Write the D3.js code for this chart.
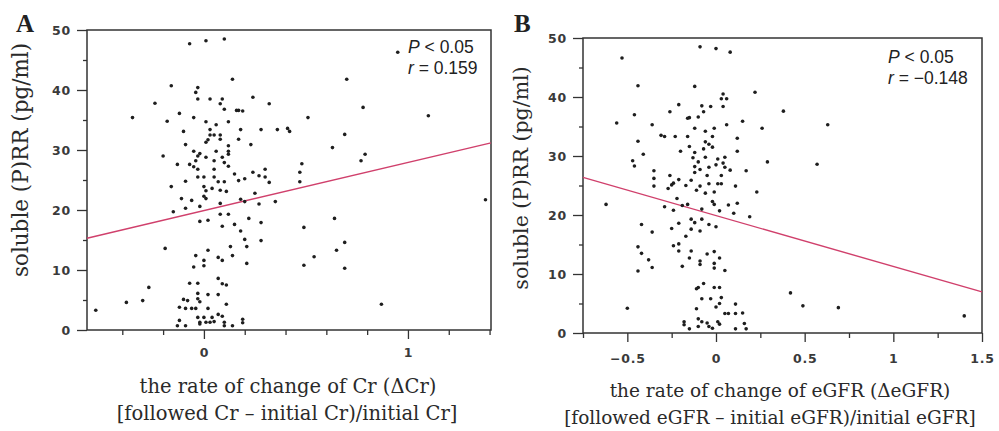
<!DOCTYPE html>
<html>
<head>
<meta charset="utf-8">
<script src="https://cdn.jsdelivr.net/npm/d3@7/dist/d3.min.js"></script>
<style>
  body { margin: 0; background: #fff; }
  .tick line { stroke: #333; stroke-width: 1.3; }
  .axis path.domain { display: none; }
  .axis text { font-family: "DejaVu Sans", sans-serif; font-weight: bold; font-size: 12.5px; fill: #3a3a3a; letter-spacing: 0.8px; }
  .title { font-family: "DejaVu Serif", serif; fill: #2a2a2a; }
  .note { font-family: "Liberation Sans", sans-serif; font-size: 17.5px; fill: #222; }
</style>
</head>
<body>
<div id="chart-area"></div>
<script>
/*
*    soluble (P)RR vs rate of change of Cr / eGFR
*/

// panel A: rate of change of Cr vs soluble (P)RR
var crChange = [-0.07,0.01,0.10,0.14,-0.16,-0.03,-0.04,-0.03,0.03,0.09,0.24,-0.24,0.08,0.32,0.10,0.16,0.17,0.19,-0.35,-0.12,
    -0.05,-0.18,0.01,0.06,0.12,-0.10,0.03,0.18,0.28,0.36,0.41,0.42,0.03,0.05,0.08,0.02,0.01,0.08,0.17,0.23,
    -0.09,0.12,0.12,0.12,-0.05,0.06,-0.02,0.01,-0.03,-0.20,0.09,0.05,-0.04,-0.13,-0.07,-0.05,0.10,0.12,0.05,-0.03,
    0.15,0.24,0.30,0.27,0.30,0.20,0.17,0.48,0.47,0.51,-0.09,-0.03,0.00,0.05,0.07,0.10,0.32,0.47,
    -0.16,0.00,0.04,0.08,0.11,0.01,0.00,0.01,-0.11,-0.06,0.25,0.18,0.20,0.27,0.35,0.08,-0.02,-0.09,-0.15,0.08,
    0.12,-0.02,0.02,0.09,0.15,0.22,0.28,0.18,0.20,0.28,0.21,0.13,-0.19,0.02,-0.04,0.14,0.07,0.09,0.00,0.00,
    -0.05,0.21,0.07,0.09,0.11,-0.07,-0.03,-0.27,-0.30,-0.38,-0.10,-0.08,-0.03,-0.03,0.02,0.07,-0.02,0.11,-0.12,-0.09,
    -0.06,-0.04,0.02,0.07,0.09,-0.12,-0.03,0.00,0.04,-0.02,0.01,0.03,0.05,0.10,0.10,0.14,0.19,0.19,-0.13,-0.09,
    -0.02,0.49,0.49,
    0.95,0.70,0.78,1.10,0.69,0.63,0.79,0.77,0.64,1.38,0.54,0.65,0.69,0.69,0.87,-0.53];
var prrA = [47.7,48.2,48.5,41.8,40.7,40.4,39.6,38.5,38.5,38.5,38.8,37.8,37.7,37.7,36.8,36.6,36.6,36.5,35.4,36.1,
    35.4,34.8,34.7,34.2,34.7,33.1,33.4,33.4,33.4,33.4,33.6,33.1,32.5,32.5,32.5,31.7,31.3,31.8,31.8,30.9,
    30.9,30.7,29.8,29.3,29.8,29.8,29.4,28.8,29.0,29.0,28.8,28.2,28.2,27.6,27.6,27.2,27.9,27.3,26.8,26.8,
    26.0,26.3,26.8,25.7,25.5,25.2,24.9,27.7,26.3,35.4,24.8,25.5,25.5,25.5,24.7,24.7,24.6,24.7,
    23.9,23.9,23.6,23.3,23.1,23.2,22.3,21.9,21.9,21.6,22.8,21.8,21.4,21.0,21.4,21.1,20.6,20.3,19.7,19.3,
    19.3,18.1,18.3,17.3,17.6,18.6,17.9,16.5,15.1,14.9,13.9,13.9,13.6,13.3,12.4,12.4,12.1,11.6,11.6,10.7,
    10.5,11.1,8.6,7.7,7.5,7.8,7.8,7.1,4.9,4.6,5.1,4.9,5.2,6.1,5.9,5.9,4.7,4.3,3.8,3.6,
    3.6,3.6,3.6,2.6,2.3,1.6,2.1,2.1,2.1,1.3,1.3,1.3,1.4,1.3,0.7,0.7,1.8,1.2,0.7,0.7,
    1.0,17.1,10.8,
    46.3,41.8,37.1,35.7,32.6,30.4,29.3,28.2,18.6,21.7,12.2,13.3,14.6,10.3,4.3,3.3];

// panel B: rate of change of eGFR vs soluble (P)RR
var egfrChange = [-0.53,-0.09,0.00,0.08,-0.44,-0.12,0.04,0.03,0.06,0.04,0.22,-0.21,-0.08,-0.03,-0.26,-0.07,0.38,-0.46,-0.16,-0.15,
    -0.10,-0.56,-0.36,0.06,0.15,0.26,-0.12,-0.06,-0.01,-0.31,-0.29,-0.23,-0.16,-0.02,0.12,-0.44,-0.06,-0.04,-0.02,-0.15,
    -0.07,-0.20,-0.12,0.12,-0.41,-0.06,-0.13,0.01,0.05,-0.47,-0.10,0.00,0.04,0.29,-0.46,-0.12,-0.04,0.05,-0.35,-0.12,
    -0.09,0.08,0.17,-0.26,-0.05,0.03,-0.35,-0.21,-0.14,-0.24,-0.25,-0.17,-0.09,-0.04,0.01,0.03,0.11,-0.35,
    0.63,0.57,-0.62,
    -0.27,-0.11,-0.06,-0.01,0.23,-0.22,-0.29,-0.24,-0.19,-0.16,-0.08,-0.02,-0.01,0.02,0.07,0.12,0.10,0.19,-0.42,-0.36,
    -0.25,-0.21,-0.14,-0.12,-0.08,-0.14,-0.09,-0.04,0.00,-0.17,-0.44,-0.42,-0.24,-0.21,-0.21,-0.14,-0.38,-0.36,-0.44,-0.15,
    -0.19,-0.05,-0.01,0.02,-0.09,-0.09,-0.01,-0.01,0.05,-0.07,-0.10,-0.11,-0.01,0.02,0.03,-0.08,-0.03,0.02,0.11,-0.11,
    0.00,-0.50,0.05,0.07,0.11,0.15,-0.18,-0.18,-0.15,-0.10,-0.08,-0.10,-0.05,-0.04,-0.02,0.01,0.02,0.11,0.16,0.17,
    0.42,0.49,0.69,1.40];
var prrB = [46.6,48.5,48.2,47.6,41.9,41.8,40.5,39.7,39.7,38.4,40.8,38.7,38.5,38.4,37.5,37.5,37.6,37.0,36.4,36.5,
    36.6,35.6,35.3,35.3,35.9,34.7,34.7,34.2,34.7,33.5,33.3,33.3,33.3,33.3,33.0,32.5,32.4,32.0,31.5,31.6,
    31.2,30.8,30.6,30.8,30.3,29.8,29.7,29.5,29.8,29.2,29.0,28.5,28.8,29.0,28.3,28.2,28.1,28.1,27.5,27.2,
    27.7,27.6,27.5,26.7,26.7,26.7,26.2,26.0,25.9,25.4,25.1,25.0,24.9,25.3,25.3,25.3,24.9,24.9,
    35.3,28.6,21.8,
    24.5,24.2,23.7,23.9,23.9,22.8,21.4,20.8,21.6,21.8,21.0,22.3,21.8,20.7,21.7,22.0,20.3,19.7,18.4,17.1,
    17.7,18.6,19.3,18.7,19.3,17.6,17.3,18.4,18.0,16.4,14.6,13.5,14.8,15.1,13.9,13.9,12.4,11.1,10.5,12.7,
    11.3,13.4,13.8,12.7,12.2,11.6,11.8,11.0,10.6,8.4,7.7,7.5,7.7,7.7,6.0,5.8,5.8,5.0,4.9,4.1,
    4.4,4.2,3.3,3.3,3.3,3.4,1.9,1.4,0.7,2.4,1.9,1.1,1.7,1.1,0.8,1.9,1.5,0.7,1.6,0.7,
    6.8,4.6,4.3,2.9];

// regression lines: [intercept, slope]
var fitA = [19.9, 8.03];
var fitB = [19.9, -8.62];

var yTicks = [0, 10, 20, 30, 40, 50];
var yMinor = [5, 15, 25, 35, 45];
var xTicksA = [0, 1];
var xMinorA = [-0.4, -0.2, 0.2, 0.4, 0.6, 0.8, 1.2, 1.4];
var xTicksB = [-0.5, 0, 0.5, 1, 1.5];
var xMinorB = [-0.75, -0.25, 0.25, 0.75, 1.25];

var svg = d3.select("#chart-area").append("svg")
    .attr("width", 999)
    .attr("height", 431);

function fmt(d) {
    return d < 0 ? "\u2212" + Math.abs(d) : "" + d;
}

function drawPanel(p) {
    var g = svg.append("g");

    var x = d3.scaleLinear().domain(p.xDomain).range([p.left, p.right]);
    var y = d3.scaleLinear().domain([0, 50]).range([p.bottom, p.top]);

    // minor ticks
    g.append("g")
        .attr("class", "axis")
        .attr("transform", "translate(0," + p.bottom + ")")
        .call(d3.axisBottom(x).tickValues(p.xMinor).tickSize(5).tickFormat(""));
    g.append("g")
        .attr("class", "axis")
        .attr("transform", "translate(" + p.left + ",0)")
        .call(d3.axisLeft(y).tickValues(yMinor).tickSize(4).tickFormat(""));

    // major ticks
    g.append("g")
        .attr("class", "axis")
        .attr("transform", "translate(0," + p.bottom + ")")
        .call(d3.axisBottom(x).tickValues(p.xTicks).tickSize(9).tickPadding(p.xPad).tickFormat(fmt));
    g.append("g")
        .attr("class", "axis")
        .attr("transform", "translate(" + p.left + ",0)")
        .call(d3.axisLeft(y).tickValues(yTicks).tickSize(10).tickPadding(6).tickFormat(fmt));

    // frame
    g.append("rect")
        .attr("x", p.left)
        .attr("y", p.top)
        .attr("width", p.right - p.left)
        .attr("height", p.bottom - p.top)
        .attr("fill", "none")
        .attr("stroke", "#333")
        .attr("stroke-width", 1.5);

    // regression line
    g.append("line")
        .attr("x1", x(p.xDomain[0]))
        .attr("y1", y(p.fit[0] + p.fit[1] * p.xDomain[0]))
        .attr("x2", x(p.xDomain[1]))
        .attr("y2", y(p.fit[0] + p.fit[1] * p.xDomain[1]))
        .attr("stroke", "#d0406c")
        .attr("stroke-width", 1.4);

    // points
    g.selectAll("circle.pt")
        .data(p.xs)
        .enter()
        .append("circle")
            .attr("class", "pt")
            .attr("cx", (d) => x(d))
            .attr("cy", (d, i) => y(p.ys[i]))
            .attr("r", 1.8)
            .attr("fill", "#1e1e1e");

    // panel letter
    g.append("text")
        .attr("x", p.letterX)
        .attr("y", p.letterY)
        .attr("font-family", "Liberation Serif, serif")
        .attr("font-weight", "bold")
        .attr("font-size", 25)
        .attr("fill", "#222")
        .text(p.letter);

    // y title
    g.append("text")
        .attr("class", "title")
        .attr("transform", "translate(" + p.yTitleX + "," + p.yTitleY + ") rotate(-90)")
        .attr("text-anchor", "middle")
        .attr("font-size", p.yTitleSize)
        .text("soluble (P)RR (pg/ml)");

    // x title
    var xt = g.append("text")
        .attr("class", "title")
        .attr("text-anchor", "middle")
        .attr("font-size", p.xTitleSize);
    xt.append("tspan")
        .attr("x", p.xTitleX[0])
        .attr("y", p.xTitleY[0])
        .text(p.xTitle[0]);
    xt.append("tspan")
        .attr("x", p.xTitleX[1])
        .attr("y", p.xTitleY[1])
        .text(p.xTitle[1]);

    // statistics
    var n1 = g.append("text").attr("class", "note").attr("x", p.noteX).attr("y", p.noteY);
    n1.append("tspan").attr("font-style", "italic").text("P");
    n1.append("tspan").text(" < 0.05");
    var n2 = g.append("text").attr("class", "note").attr("x", p.noteX).attr("y", p.noteY + 21);
    n2.append("tspan").attr("font-style", "italic").text("r");
    n2.append("tspan").text(" = " + p.r);
}

drawPanel({
    left: 87, right: 491, top: 30, bottom: 330,
    xDomain: [-0.573, 1.407],
    xTicks: xTicksA, xMinor: xMinorA, xPad: 9,
    xs: crChange, ys: prrA, fit: fitA,
    letter: "A", letterX: 16, letterY: 32,
    yTitleX: 28, yTitleY: 160, yTitleSize: 21.5,
    xTitle: ["the rate of change of Cr (\u0394Cr)", "[followed Cr \u2013 initial Cr)/initial Cr]"],
    xTitleX: [288, 287], xTitleY: [393, 420], xTitleSize: 19.5,
    noteX: 408, noteY: 53, r: "0.159"
});

drawPanel({
    left: 583, right: 982, top: 38, bottom: 333,
    xDomain: [-0.75, 1.5],
    xTicks: xTicksB, xMinor: xMinorB, xPad: 12,
    xs: egfrChange, ys: prrB, fit: fitB,
    letter: "B", letterX: 514, letterY: 32,
    yTitleX: 528, yTitleY: 178, yTitleSize: 20.5,
    xTitle: ["the rate of change of eGFR (\u0394eGFR)", "[followed eGFR \u2013 initial eGFR)/initial eGFR]"],
    xTitleX: [780, 770], xTitleY: [397, 424], xTitleSize: 18.5,
    noteX: 888, noteY: 63, r: "\u22120.148"
});
</script>
</body>
</html>
